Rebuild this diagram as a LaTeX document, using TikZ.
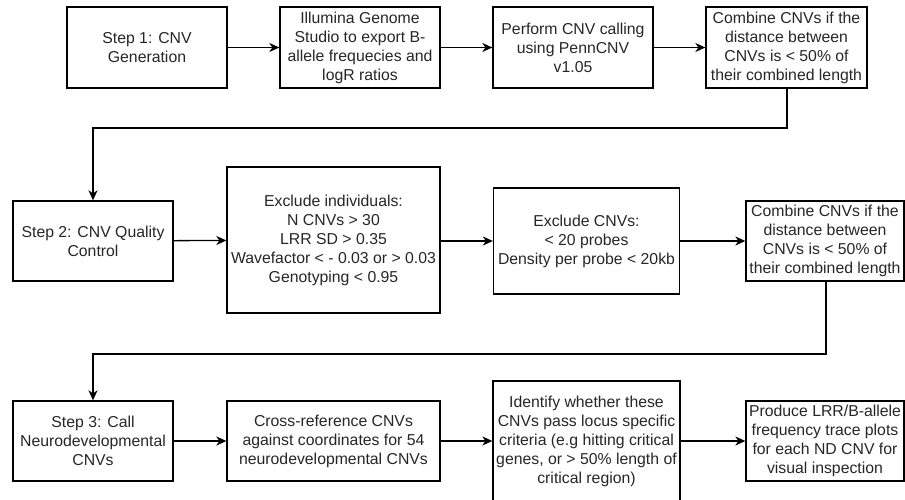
\documentclass[tikz,border=0pt]{standalone}
\usepackage{fontspec}
\setmainfont{Liberation Sans}
\usetikzlibrary{arrows.meta}
\begin{document}
\begin{tikzpicture}[x=1pt,y=-1pt,
  box/.style={draw=black, line width=1.3pt, rectangle, align=center, inner sep=1pt,
    font=\fontsize{15.8}{19}\selectfont, text=black!85},
  conn/.style={draw=black, line width=1.3pt, -{Stealth[length=10pt,width=9pt,inset=3pt]}},
  line/.style={draw=black, line width=1.3pt}]
\useasboundingbox (0,0) rectangle (905,500);
% Row 1
\node[box, minimum width=160pt, minimum height=81pt] (a) at (147,47.5) {Step 1: CNV\\Generation};
\node[box, minimum width=160pt, minimum height=81pt] (b) at (360,47.5) {Illumina Genome\\Studio to export B-\\allele frequecies and\\logR ratios};
\node[box, minimum width=160pt, minimum height=81pt] (c) at (573,47.5) {Perform CNV calling\\using PennCNV\\v1.05};
\node[box, minimum width=161pt, minimum height=81pt] (d) at (786.5,47.5) {Combine CNVs if the\\distance between\\CNVs is < 50\% of\\their combined length};
% Row 2
\node[box, minimum width=160pt, minimum height=80pt] (s2) at (93,241) {Step 2: CNV Quality\\Control};
\node[box, minimum width=213pt, minimum height=146pt] (ei) at (333.5,240) {Exclude individuals:\\N CNVs > 30\\LRR SD > 0.35\\Wavefactor < - 0.03 or > 0.03\\Genotyping < 0.95};
\node[box, minimum width=186pt, minimum height=106pt] (ec) at (586.5,241) {Exclude CNVs:\\< 20 probes\\Density per probe < 20kb};
\node[box, minimum width=158pt, minimum height=80pt] (c2) at (825,241) {Combine CNVs if the\\distance between\\CNVs is < 50\% of\\their combined length};
% Row 3
\node[box, minimum width=160pt, minimum height=80pt] (s3) at (93,441) {Step 3: Call\\Neurodevelopmental\\CNVs};
\node[box, minimum width=213pt, minimum height=80pt] (cr) at (333.5,441) {Cross-reference CNVs\\against coordinates for 54\\neurodevelopmental CNVs};
\node[box, minimum width=187pt, minimum height=120pt] (id) at (586.5,441) {Identify whether these\\CNVs pass locus specific\\criteria (e.g hitting critical\\genes, or > 50\% length of\\critical region)};
\node[box, minimum width=158pt, minimum height=80pt] (pr) at (825,441) {Produce LRR/B-allele\\frequency trace plots\\for each ND CNV for\\visual inspection};
% Connectors
\coordinate (j1) at (787,128);
\coordinate (j2) at (826,354);
\draw[conn] (a) -- (b);
\draw[conn] (b) -- (c);
\draw[conn] (c) -- (d);
\draw[conn] (d.south -| j1) -- (j1) -| (s2.north);
\draw[conn] (s2) -- (ei);
\draw[conn] (ei.east |- ec) -- (ec);
\draw[conn] (ec) -- (c2);
\draw[conn] (c2.south -| j2) -- (j2) -| (s3.north);
\draw[conn] (s3) -- (cr);
\draw[conn] (cr) -- (id);
\draw[conn] (id) -- (pr);
\end{tikzpicture}
\end{document}
